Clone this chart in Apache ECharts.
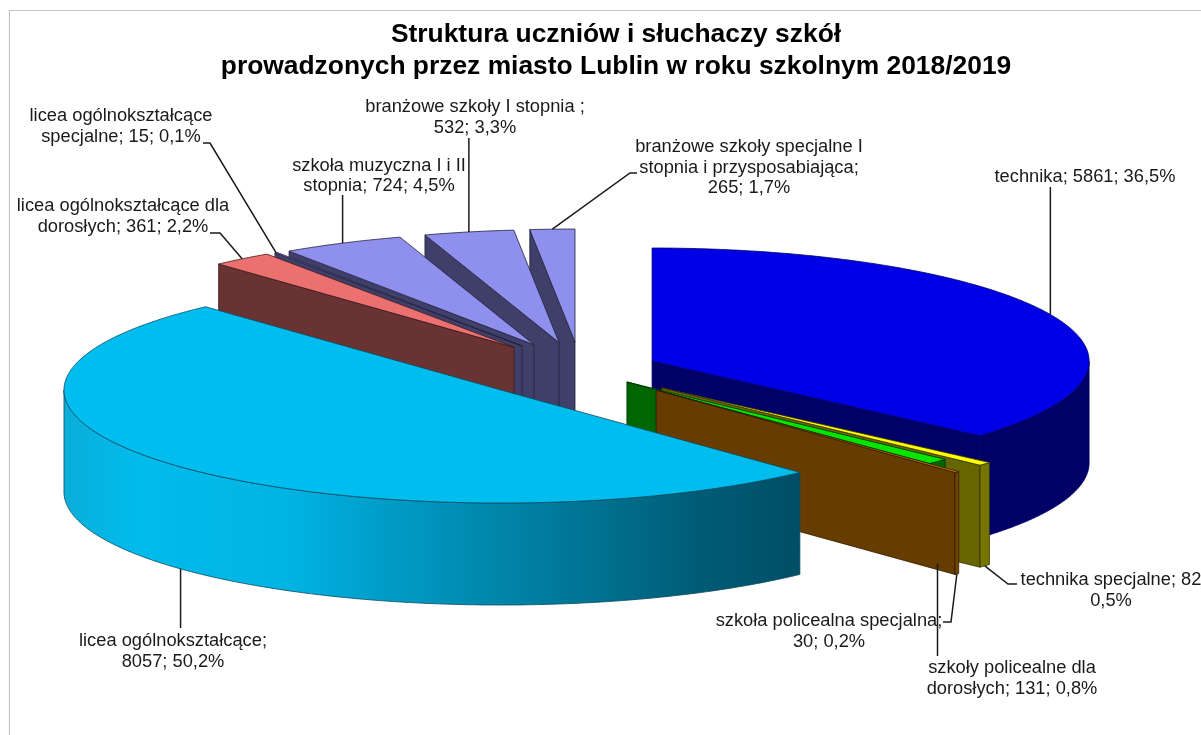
<!DOCTYPE html>
<html>
<head>
<meta charset="utf-8">
<title>Struktura uczniów</title>
<script src="https://cdn.jsdelivr.net/npm/echarts@6/dist/echarts.min.js"></script>
<style>
  html, body { margin: 0; padding: 0; background: #fff; overflow: hidden; }
  #main { width: 1201px; height: 735px; }
</style>
</head>
<body>
<div id="main"></div>
<script>
// data, clockwise from 12 o'clock
const categories = [
  'technika', 'technika specjalne', 'szkoły policealne dla dorosłych', 'szkoła policealna specjalna',
  'licea ogólnokształcące', 'licea ogólnokształcące dla dorosłych', 'licea ogólnokształcące specjalne',
  'szkoła muzyczna I i II stopnia', 'branżowe szkoły I stopnia', 'branżowe szkoły specjalne I stopnia i przysposabiająca'
];
const values = [5861, 82, 131, 30, 8057, 361, 15, 724, 532, 265];
const labelLines = [
  ['technika; 5861; 36,5%'],
  ['technika specjalne; 82', '0,5%'],
  ['szkoły policealne dla', 'dorosłych; 131; 0,8%'],
  ['szkoła policealna specjalna;', '30; 0,2%'],
  ['licea ogólnokształcące;', '8057; 50,2%'],
  ['licea ogólnokształcące dla', 'dorosłych; 361; 2,2%'],
  ['licea ogólnokształcące', 'specjalne; 15; 0,1%'],
  ['szkoła muzyczna I i II', 'stopnia; 724; 4,5%'],
  ['branżowe szkoły I stopnia ;', '532; 3,3%'],
  ['branżowe szkoły specjalne I', 'stopnia i przysposabiająca;', '265; 1,7%']
];
const titleText = 'Struktura uczniów i słuchaczy szkół\nprowadzonych przez miasto Lublin w roku szkolnym 2018/2019';

// pie geometry (in axis units, the axes are 1:1 with the page)
const pieCenter = [580, 366.5];
const rx = 437, ry = 113, depth = 102;
const explodeX = [0.181, 0.2526, 0.151, 0.253, 0.2466, 0.2426, 0.2355, 0.24, 0.2327, 0.22];
const explodeY = [0.118, 0.28, 0.195, 0.287, 0.306, 0.217, 0.22, 0.2146, 0.217, 0.217];
const paintOrder = [9, 8, 7, 6, 5, 0, 1, 2, 3, 4];

const topColors = ['#0000e6', '#ffff00', '#00e600', '#cc7a00', '#00bdf0', '#ec7070', '#8f8fee', '#8f8fee', '#8f8fee', '#8f8fee'];
const faceColors = ['#000066', '#666600', '#006600', '#663c00', '#005f7a', '#6a3333', '#3f3f69', '#3f3f69', '#3f3f69', '#3f3f69'];
const rimColors = ['#000066', '#757500', '#006600', '#744400', '#00bdf0', '#6a3333', '#3f3f69', '#3f3f69', '#3f3f69', '#3f3f69'];
const edgeColors = ['#000066', '#33330a', '#003300', '#2e1a00', '#0d4a5e', '#3a1a1a', '#22223c', '#22223c', '#22223c', '#22223c'];

// leader bends and label centres on the axes, a null x keeps the leader vertical
const leaderBends = [
  [[null, 187]],
  [[1008, 584], [1017, 584]],
  [[null, 656]],
  [[951, 622], [943, 622]],
  [[null, 628]],
  [[220, 233], [210, 233]],
  [[210, 143], [203, 143]],
  [[null, 195]],
  [[null, 138]],
  [[630, 173], [637, 173]]
];
const labelAnchors = [
  [1085, 177], [1111, 580], [1012, 668], [829, 621], [173, 641],
  [123, 206], [121, 116], [379, 165.5], [475, 107], [749, 147]
];
const labelLineHeight = 20.5;

const total = values.reduce((a, b) => a + b, 0);
const sliceStart = [];
values.reduce((sum, v, i) => { sliceStart[i] = sum / total * 360; return sum + v; }, 0);
const rad = d => d * Math.PI / 180;

function sliceGeom(i) {
  const a0 = sliceStart[i];
  const a1 = a0 + values[i] / total * 360;
  const mid = rad((a0 + a1) / 2);
  const cx = pieCenter[0] + explodeX[i] * rx * Math.sin(mid);
  const cy = pieCenter[1] - explodeY[i] * ry * Math.cos(mid);
  const at = (deg, drop) => [cx + rx * Math.sin(rad(deg)), cy - ry * Math.cos(rad(deg)) + (drop || 0)];
  return { a0, a1, cx, cy, at };
}

function arc(g, from, to, drop) {
  const pts = [];
  const n = Math.max(2, Math.ceil((to - from) * 2));
  for (let k = 0; k <= n; k++) pts.push(g.at(from + (to - from) * k / n, drop));
  return pts;
}

function renderSlice(params, api) {
  const i = api.value(1);
  const g = sliceGeom(i);
  const project = pts => pts.map(p => api.coord(p));
  const children = [];
  const push = (pts, fill, stroke) => children.push({
    type: 'polygon',
    shape: { points: project(pts) },
    style: { fill: fill, stroke: stroke, lineWidth: 0.8 },
    silent: true
  });
  const apex = [g.cx, g.cy];
  const apexLow = [g.cx, g.cy + depth];

  // cut faces, only the ones turned to the viewer
  const p0 = g.at(g.a0), p1 = g.at(g.a1);
  if (p0[0] < g.cx) push([apex, p0, g.at(g.a0, depth), apexLow], faceColors[i], edgeColors[i]);
  if (p1[0] > g.cx) push([apex, p1, g.at(g.a1, depth), apexLow], faceColors[i], edgeColors[i]);

  // outer wall
  const from = Math.max(g.a0, 90), to = Math.min(g.a1, 270);
  if (from < to) {
    let fill = rimColors[i];
    if (i === 4) {
      fill = new echarts.graphic.LinearGradient(0, 0, 1, 0, [
        { offset: 0, color: '#0aaed8' },
        { offset: 0.1, color: '#00bbec' },
        { offset: 0.3, color: '#00b4e4' },
        { offset: 0.42, color: '#009fcb' },
        { offset: 0.6, color: '#0084a8' },
        { offset: 0.74, color: '#006f8e' },
        { offset: 0.86, color: '#005c76' },
        { offset: 1, color: '#004e66' }
      ]);
    }
    push(arc(g, from, to, 0).concat(arc(g, from, to, depth).reverse()), fill, edgeColors[i]);
  }

  // top
  push([apex].concat(arc(g, g.a0, g.a1, 0)), topColors[i], edgeColors[i]);
  return { type: 'group', children: children };
}

function renderLabel(params, api) {
  const i = api.value(1);
  const g = sliceGeom(i);
  const midDeg = (g.a0 + g.a1) / 2;
  const front = midDeg > 90 && midDeg < 270;
  const start = g.at(midDeg, front ? depth : 0);
  const bends = leaderBends[i].map(b => [b[0] === null ? start[0] : b[0], b[1]]);
  const children = [{
    type: 'polyline',
    shape: { points: [start].concat(bends).map(p => api.coord(p)) },
    style: { fill: null, stroke: '#1a1a1a', lineWidth: 1.5 },
    silent: true
  }];
  labelLines[i].forEach((line, k) => {
    const pos = api.coord([labelAnchors[i][0], labelAnchors[i][1] + k * labelLineHeight]);
    children.push({
      type: 'text',
      style: {
        text: line, x: pos[0], y: pos[1], align: 'center', verticalAlign: 'middle',
        fill: '#1a1a1a', font: '18.3px "Liberation Sans", Arial, sans-serif'
      },
      silent: true
    });
  });
  return { type: 'group', children: children };
}

const paintData = paintOrder.map(i => [values[i], i]);

let myChart = echarts.init(document.getElementById('main'));
let option = {
  animation: false,
  backgroundColor: '#ffffff',
  title: {
    text: titleText,
    left: 611,
    top: 14,
    textAlign: 'center',
    textStyle: { color: '#000', fontFamily: '"Liberation Sans", Arial, sans-serif', fontSize: 26.4, fontWeight: 'bold', lineHeight: 32 }
  },
  grid: { left: 0, right: 0, top: 0, bottom: 0 },
  xAxis: { type: 'value', min: 0, max: 1201, show: false },
  yAxis: { type: 'value', min: 0, max: 735, inverse: true, show: false },
  graphic: [
    { type: 'polyline', shape: { points: [[9.5, 735], [9.5, 10.5], [1201, 10.5]] }, style: { fill: null, stroke: '#c4c4c4', lineWidth: 1.2 }, silent: true }
  ],
  series: [
    {
      name: 'slices', type: 'custom', coordinateSystem: 'cartesian2d', renderItem: renderSlice,
      encode: { x: -1, y: -1 }, data: paintData, clip: false, z: 2
    },
    {
      name: 'labels', type: 'custom', coordinateSystem: 'cartesian2d', renderItem: renderLabel,
      encode: { x: -1, y: -1 }, data: paintData, clip: false, z: 3
    }
  ]
};
option && myChart.setOption(option);
</script>
</body>
</html>
